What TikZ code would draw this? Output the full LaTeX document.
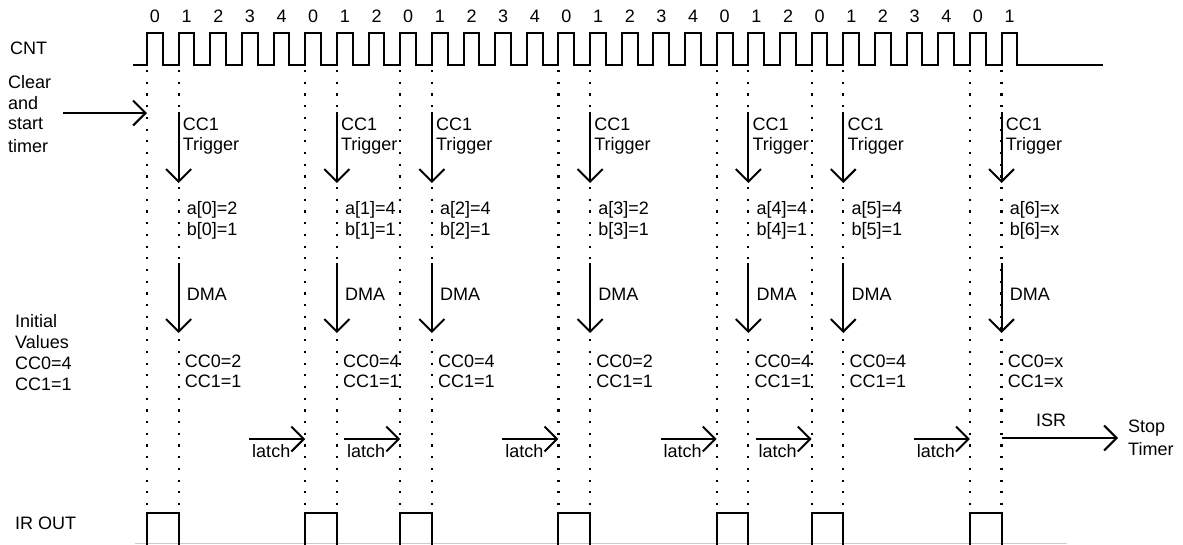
\documentclass[tikz,border=0pt]{standalone}
\usepackage{fontspec}
\setmainfont{Liberation Sans}
\usetikzlibrary{arrows.meta}
\begin{document}
\begin{tikzpicture}[x=1pt,y=-1pt,
  wave/.style={line width=2pt, line join=miter},
  dotline/.style={line width=2.2pt, dash pattern=on 2.2pt off 9.5pt},
  arr/.style={line width=2pt, -{Straight Barb[length=12.5pt,width=25pt]}},
  lbl/.style={inner sep=0pt, anchor=west, font=\fontsize{18}{21}\selectfont},
  clbl/.style={inner sep=0pt, font=\fontsize{18}{21}\selectfont}]
\useasboundingbox (0,0) rectangle (1183,544);
% clock
\draw[wave] (133,65) \foreach \k in {0,...,27}{ -- ({147+31.65*\k},65) -- ++(0,-32) -- ++(15.8,0) -- ++(0,32) } -- (1103,65);
\foreach \lab [count=\k from 0] in {0,1,2,3,4,0,1,2,0,1,2,3,4,0,1,2,3,4,0,1,2,0,1,2,3,4,0,1}
  \node[clbl] (n\k) at ({155+31.65*\k},16) {\lab};
% left labels
\node[lbl] (cnt) at (10,48) {CNT};
\node[lbl] (cl1) at (8,82) {Clear};
\node[lbl] (cl2) at (8,103) {and};
\node[lbl] (cl3) at (8,124) {start};
\node[lbl] (cl4) at (8,146) {timer};
\node[lbl] (iv1) at (15,321) {Initial};
\node[lbl] (iv2) at (15,342) {Values};
\node[lbl] (iv3) at (15,363) {CC0=4};
\node[lbl] (iv4) at (15,384) {CC1=1};
\node[lbl] (ir) at (15,523) {IR OUT};
\coordinate (clrA) at (63,113);
\coordinate (clrB) at (147,113);
\draw[arr] (clrA) -- (clrB);
% IR baseline
\draw[gray!40, line width=1pt] (135,543.5) -- (1067,543.5);
% groups
\foreach \s/\i/\a/\b/\c/\d in {0/0/2/1/2/1, 5/1/4/1/4/1, 8/2/4/1/4/1, 13/3/2/1/2/1, 18/4/4/1/4/1, 21/5/4/1/4/1, 26/6/x/x/x/x}{
  \pgfmathsetmacro\xa{147+31.65*\s}
  \pgfmathsetmacro\xb{\xa+31.65}
  \draw[dotline] (\xa,70) -- (\xa,513);
  \draw[dotline] (\xb,70) -- (\xb,513);
  \coordinate (ta\i) at (\xb,112);
  \coordinate (tb\i) at (\xb,183);
  \draw[arr] (ta\i) -- (tb\i);
  \node[lbl] (cc\i) at (\xb+4,124) {CC1};
  \node[lbl] (tr\i) at (\xb+4,146) {Trigger};
  \node[lbl] (a\i) at (\xb+8,210) {a[\i]=\a};
  \node[lbl] (b\i) at (\xb+8,231) {b[\i]=\b};
  \coordinate (da\i) at (\xb,263);
  \coordinate (db\i) at (\xb,333);
  \draw[arr] (da\i) -- (db\i);
  \node[lbl] (dma\i) at (\xb+8,294) {DMA};
  \node[lbl] (c0\i) at (\xb+6,361) {CC0=\c};
  \node[lbl] (c1\i) at (\xb+6,381) {CC1=\d};
  \draw[wave] (\xa,545) -- (\xa,513) -- (\xb,513) -- (\xb,545);
  \ifnum\i>0
    \coordinate (la\i) at (\xa-56,439);
    \coordinate (lb\i) at (\xa,439);
    \draw[arr] (la\i) -- (lb\i);
    \node[clbl] (lt\i) at (\xa-34,451) {latch};
  \fi
}
% ISR
\coordinate (isrA) at ({147+31.65*27},438);
\coordinate (isrB) at (1118,438);
\draw[arr] (isrA) -- (isrB);
\node[clbl] (isr) at (1051,420) {ISR};
\node[lbl] (st1) at (1128,428) {Stop};
\node[lbl] (st2) at (1128,449) {Timer};
\end{tikzpicture}
\end{document}
